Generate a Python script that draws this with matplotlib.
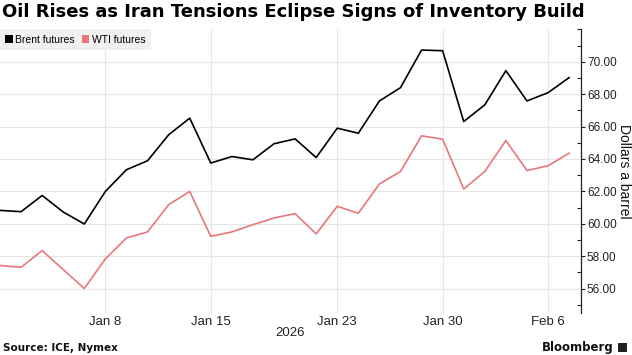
import matplotlib
matplotlib.use('Agg')
import matplotlib.pyplot as plt
from matplotlib.ticker import MultipleLocator, FixedLocator, FormatStrFormatter
from matplotlib.patches import Patch

# Trading days shown on the chart
dates = ['Dec 31', 'Jan 2', 'Jan 5', 'Jan 6', 'Jan 7', 'Jan 8', 'Jan 9', 'Jan 12',
         'Jan 13', 'Jan 14', 'Jan 15', 'Jan 16', 'Jan 19', 'Jan 20', 'Jan 21',
         'Jan 22', 'Jan 23', 'Jan 26', 'Jan 27', 'Jan 28', 'Jan 29', 'Jan 30',
         'Feb 2', 'Feb 3', 'Feb 4', 'Feb 5', 'Feb 6', 'Feb 9']

brent = [60.83, 60.75, 61.75, 60.73, 59.99, 62.00, 63.34, 63.89, 65.49, 66.52,
         63.75, 64.15, 63.95, 64.94, 65.24, 64.09, 65.90, 65.59, 67.58, 68.40,
         70.72, 70.68, 66.31, 67.34, 69.45, 67.58, 68.09, 69.02]

wti = [57.43, 57.32, 58.35, 57.18, 56.01, 57.84, 59.13, 59.50, 61.18, 62.00,
       59.23, 59.50, 59.95, 60.36, 60.63, 59.38, 61.08, 60.65, 62.46, 63.23,
       65.43, 65.22, 62.15, 63.23, 65.14, 63.29, 63.58, 64.36]

tick_dates = ['Jan 8', 'Jan 15', 'Jan 23', 'Jan 30', 'Feb 6']
tick_labels = ['Jan 8', 'Jan 15', 'Jan 23', 'Jan 30', 'Feb 6']
price_ticks = [56, 58, 60, 62, 64, 66, 68, 70]

BRENT_COLOR = '#000000'
WTI_COLOR = '#e8777c'
GRID_COLOR = '#e6e6e6'
SMALL = ['Liberation Sans', 'DejaVu Sans']

W, H = 632, 355
fig = plt.figure(figsize=(W / 100, H / 100), dpi=100)
ax = fig.add_axes([0, 1 - 313 / H, 580.7 / W, (313 - 29.3) / H])

x = list(range(len(dates)))
ax.plot(x, wti, color=WTI_COLOR, linewidth=1.2, zorder=3)
ax.plot(x, brent, color=BRENT_COLOR, linewidth=1.2, zorder=4)

ax.set_xlim(0, 27.55)
ax.set_ylim(54.5, 72)

# x ticks by trading-day index
ax.set_xticks([dates.index(d) for d in tick_dates])
ax.set_xticklabels(tick_labels, family=SMALL)
ax.tick_params(axis='x', length=0, labelsize=9.5, pad=2.5, colors='#222222')

# right-hand price axis
ax.yaxis.tick_right()
ax.yaxis.set_label_position('right')
ax.yaxis.set_major_locator(FixedLocator(price_ticks))
ax.yaxis.set_minor_locator(MultipleLocator(1))
ax.yaxis.set_major_formatter(FormatStrFormatter('%.2f'))
ax.tick_params(axis='y', which='major', direction='out', length=3, width=0.8,
               labelsize=8.5, pad=1.5, colors='#222222')
ax.tick_params(axis='y', which='minor', direction='in', length=3, width=0.8,
               color='#222222')
for lab in ax.get_yticklabels():
    lab.set_family(SMALL)
ax.set_ylabel('Dollars a barrel', rotation=270, fontsize=10, color='#111111',
              va='center', family=SMALL)
ax.yaxis.set_label_coords(624 / 580.7, 0.5)

for s in ['left', 'top', 'bottom']:
    ax.spines[s].set_visible(False)
ax.spines['right'].set_color('#222222')
ax.spines['right'].set_linewidth(0.9)

ax.grid(True, which='major', color=GRID_COLOR, linewidth=0.8, zorder=0)
ax.set_axisbelow(True)

# legend with grey background in the top-left corner
handles = [Patch(facecolor=BRENT_COLOR, label='Brent futures'),
           Patch(facecolor=WTI_COLOR, label='WTI futures')]
leg = ax.legend(handles=handles, loc='upper left', bbox_to_anchor=(0, 1),
                ncol=2, frameon=True, prop={'family': SMALL, 'size': 7.5},
                handlelength=0.7, handleheight=0.7, handletextpad=0.25,
                columnspacing=0.7, borderaxespad=0, borderpad=0.5,
                fancybox=False)
leg.get_frame().set_facecolor('#f0f0f0')
leg.get_frame().set_edgecolor('none')
leg.get_frame().set_alpha(1)
leg.set_zorder(5)

fig.text(290 / W, 1 - 333 / H, '2026', fontsize=9.5, ha='center', va='center',
         color='#222222', family=SMALL)

fig.text(2 / W, 1 - 12 / H,
         'Oil Rises as Iran Tensions Eclipse Signs of Inventory Build',
         fontsize=13, fontweight='bold', ha='left', va='center')
fig.text(3 / W, 1 - 348 / H, 'Source: ICE, Nymex', fontsize=7.5,
         fontweight='bold', ha='left', va='center', color='#111111')
fig.text(614 / W, 1 - 347 / H, 'Bloomberg', fontsize=8.5, fontweight='bold',
         ha='right', va='center', color='#111111')
fig.patches.append(plt.Rectangle((618 / W, 1 - 352 / H), 9 / W, 9 / H,
                                 transform=fig.transFigure, facecolor='#222222',
                                 edgecolor='none'))

fig.savefig('out.png', dpi=100)
